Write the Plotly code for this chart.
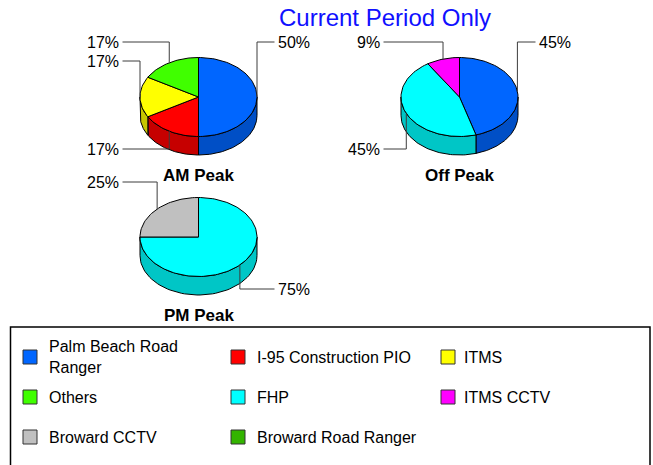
import numpy as np
import plotly.graph_objects as go

# Categories (in drawing / legend order) and their colours
categories = ["Palm Beach Road Ranger", "I-95 Construction PIO", "ITMS",
              "Others", "FHP", "ITMS CCTV", "Broward CCTV", "Broward Road Ranger"]
top_colors = ["#0066FF", "#FF0000", "#FFFF00", "#40FF00",
              "#00FFFF", "#FF00FF", "#C0C0C0", "#33B400"]

# Incident counts per period (same category order)
am_peak = [3, 1, 1, 1, 0, 0, 0, 0]
off_peak = [5, 0, 0, 0, 5, 1, 0, 0]
pm_peak = [0, 0, 0, 0, 3, 0, 1, 0]

period_names = ["AM Peak", "Off Peak", "PM Peak"]
period_values = [am_peak, off_peak, pm_peak]

W, H = 653, 465
FONT = "Liberation Sans, Arial, sans-serif"

# pie layout: centres of top ellipse, radii and thickness (pixels)
centres = [(198.5, 97.0), (459.5, 97.0), (198.5, 237.0)]
RX, RY, DEPTH = 58.5, 39.5, 18.5


def shade(hex_color, f=0.78):
    h = hex_color.lstrip("#")
    r, g, b = (int(h[i:i + 2], 16) for i in (0, 2, 4))
    return "#%02X%02X%02X" % (int(r * f), int(g * f), int(b * f))


def ell(cx, cy, deg, dy=0.0):
    a = np.radians(deg)
    return cx + RX * np.sin(a), cy - RY * np.cos(a) + dy


fig = go.Figure()
annotations = []
line_kw = dict(mode="lines", hoverinfo="skip", showlegend=False)

for name, vals, (cx, cy) in zip(period_names, period_values, centres):
    total = float(sum(vals))
    slices = []
    start = 0.0
    for cat, v, col in zip(categories, vals, top_colors):
        if v <= 0:
            continue
        sweep = 360.0 * v / total
        slices.append((cat, v, col, start, start + sweep))
        start += sweep

    # front wall (visible between 90 and 270 degrees clockwise from top)
    for cat, v, col, a1, a2 in slices:
        s, e = max(a1, 90.0), min(a2, 270.0)
        if e <= s:
            continue
        t = np.linspace(s, e, 60)
        xt, yt = ell(cx, cy, t)
        xb, yb = ell(cx, cy, t[::-1], DEPTH)
        fig.add_trace(go.Scatter(
            x=np.r_[xt, xb, xt[:1]], y=np.r_[yt, yb, yt[:1]],
            fill="toself", fillcolor=shade(col),
            line=dict(color="#000000", width=1), **line_kw))

    # top faces
    for cat, v, col, a1, a2 in slices:
        t = np.linspace(a1, a2, max(int((a2 - a1) / 2), 4))
        xt, yt = ell(cx, cy, t)
        fig.add_trace(go.Scatter(
            x=np.r_[cx, xt, cx], y=np.r_[cy, yt, cy],
            fill="toself", fillcolor=col,
            line=dict(color="#000000", width=1), **line_kw))

    # percentage labels with elbow leaders
    groups = {}
    for cat, v, col, a1, a2 in slices:
        mid = (a1 + a2) / 2.0
        px, py = ell(cx, cy, mid)
        side = -1 if np.sin(np.radians(mid)) < -1e-9 else 1
        upper = py <= cy + 1e-6
        groups.setdefault((side, upper), []).append((px, py, v))
    for (side, upper), items in groups.items():
        items.sort(key=lambda it: it[1], reverse=not upper)
        for i, (px, py, v) in enumerate(items):
            ly = cy - 55 + 19 * i if upper else cy + 52 - 19 * i
            lx = cx + side * 76
            fig.add_trace(go.Scatter(
                x=[px, px, lx], y=[py, ly, ly],
                line=dict(color="#3C3C3C", width=1), **line_kw))
            annotations.append(dict(
                x=lx + side * 1.5, y=ly, xref="x", yref="y",
                text="%d%%" % round(100.0 * v / total), showarrow=False,
                xanchor="left" if side > 0 else "right", yanchor="middle",
                font=dict(family=FONT, size=16, color="#000000")))

    annotations.append(dict(
        x=cx, y=cy + 78, xref="x", yref="y", text="<b>%s</b>" % name,
        showarrow=False, xanchor="center", yanchor="middle",
        font=dict(family=FONT, size=17, color="#000000")))

# title
annotations.append(dict(
    x=384.5, y=17, xref="x", yref="y", text="Current Period Only",
    showarrow=False, xanchor="center", yanchor="middle",
    font=dict(family=FONT, size=24, color="#1010FF")))

# legend box and entries
shapes = [dict(type="rect", xref="x", yref="y", x0=10.5, y0=327, x1=650, y1=480,
               line=dict(color="#000000", width=1.5), fillcolor="rgba(0,0,0,0)")]
col_sq = [23, 231, 441]
col_tx = [47, 255, 462]
row_y = [357, 397, 437]
legend_text = ["Palm Beach Road<br>Ranger"] + categories[1:]
for i, (label, col) in enumerate(zip(legend_text, top_colors)):
    r, c = divmod(i, 3)
    y = row_y[r]
    shapes.append(dict(type="rect", xref="x", yref="y",
                       x0=col_sq[c], x1=col_sq[c] + 14, y0=y - 7, y1=y + 7,
                       fillcolor=col, line=dict(color="#333333", width=1)))
    annotations.append(dict(
        x=col_tx[c], y=y, xref="x", yref="y", text=label, showarrow=False,
        xanchor="left", yanchor="middle", align="left",
        font=dict(family=FONT, size=16, color="#000000")))

fig.update_layout(
    width=W, height=H, margin=dict(l=0, r=0, t=0, b=0),
    paper_bgcolor="#FFFFFF", plot_bgcolor="#FFFFFF",
    xaxis=dict(range=[0, W], visible=False, fixedrange=True),
    yaxis=dict(range=[H, 0], visible=False, fixedrange=True),
    shapes=shapes, annotations=annotations, showlegend=False,
)

fig.write_html("out.html")
